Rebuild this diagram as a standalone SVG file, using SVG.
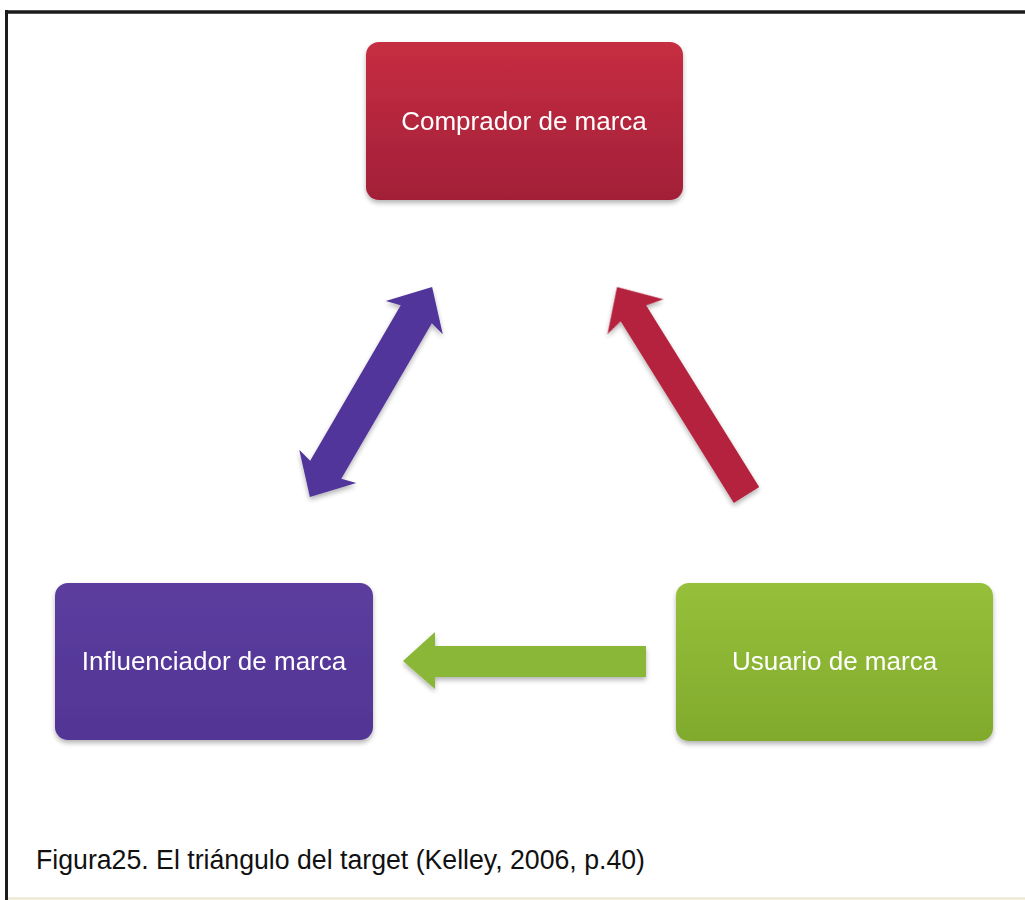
<svg xmlns="http://www.w3.org/2000/svg" width="1025" height="900" viewBox="0 0 1025 900">
  <style>
    .label { font-family: "Liberation Sans", Arial, sans-serif; font-size: 26px; fill: #ffffff; text-anchor: middle; }
    .caption { font-family: "Liberation Sans", Arial, sans-serif; font-size: 27px; fill: #111111; }
    .frame { stroke: #1c1c1c; fill: none; }
  </style>
  <defs>
    <linearGradient id="gRed" x1="0" y1="0" x2="0" y2="1">
      <stop offset="0" stop-color="#c62e42"/>
      <stop offset="1" stop-color="#a21f38"/>
    </linearGradient>
    <linearGradient id="gPurple" x1="0" y1="0" x2="0" y2="1">
      <stop offset="0" stop-color="#5b3d9e"/>
      <stop offset="1" stop-color="#523595"/>
    </linearGradient>
    <linearGradient id="gGreen" x1="0" y1="0" x2="0" y2="1">
      <stop offset="0" stop-color="#96c03a"/>
      <stop offset="1" stop-color="#80aa2c"/>
    </linearGradient>
    <filter id="shadow" x="-10%" y="-10%" width="120%" height="130%">
      <feGaussianBlur in="SourceAlpha" stdDeviation="2.5"/>
      <feOffset dx="0" dy="3" result="b"/>
      <feComponentTransfer><feFuncA type="linear" slope="0.3"/></feComponentTransfer>
      <feMerge><feMergeNode/><feMergeNode in="SourceGraphic"/></feMerge>
    </filter>
  </defs>

  <rect x="0" y="0" width="1025" height="900" fill="#ffffff"/>

  <!-- page frame -->
  <line class="frame" x1="5" y1="12" x2="1025" y2="12" stroke-width="3.5"/>
  <line class="frame" x1="6.5" y1="10" x2="6.5" y2="900" stroke-width="3"/>
  <line x1="8" y1="898.5" x2="1025" y2="898.5" stroke="#ece6cc" stroke-width="2"/>

  <!-- connectors -->
  <g id="connectors" filter="url(#shadow)">
    <!-- influencer <-> buyer -->
    <path id="arrow-influencer-buyer" fill="#51369a" transform="translate(371,392) rotate(-59.8)"
          d="M121.5,0 L86,-33 L90,-18 L-90,-18 L-86,-33 L-121.5,0 L-86,33 L-90,18 L90,18 L86,33 Z"/>
    <!-- user -> buyer -->
    <path id="arrow-user-buyer" fill="#b5233d" transform="translate(746.5,495) rotate(-121.9)"
          d="M0,-15 L214,-15 L210,-33 L245,0 L210,33 L214,15 L0,15 Z"/>
    <!-- user -> influencer -->
    <path id="arrow-user-influencer" fill="#8ab737"
          d="M646,646 L435,646 L435,632 L403,661 L435,689 L435,677 L646,677 Z"/>
  </g>

  <!-- nodes -->
  <g id="node-comprador" filter="url(#shadow)">
    <rect x="366" y="42" width="317" height="158" rx="13" fill="url(#gRed)"/>
    <text class="label" x="524" y="130">Comprador de marca</text>
  </g>
  <g id="node-influenciador" filter="url(#shadow)">
    <rect x="55" y="583" width="318" height="157" rx="13" fill="url(#gPurple)"/>
    <text class="label" x="214" y="670">Influenciador de marca</text>
  </g>
  <g id="node-usuario" filter="url(#shadow)">
    <rect x="676" y="583" width="317" height="158" rx="13" fill="url(#gGreen)"/>
    <text class="label" x="834.5" y="670">Usuario de marca</text>
  </g>

  <!-- caption -->
  <text class="caption" x="36" y="869" textLength="609" lengthAdjust="spacingAndGlyphs">Figura25. El triángulo del target (Kelley, 2006, p.40)</text>
</svg>
